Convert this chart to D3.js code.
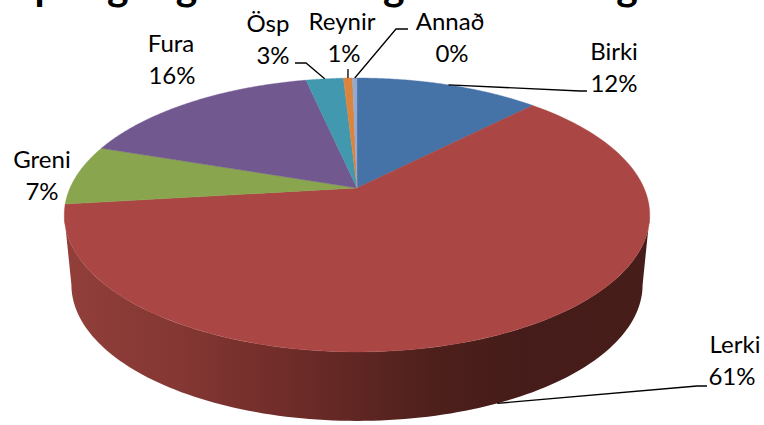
<!DOCTYPE html>
<html><head><meta charset="utf-8">
<script src="https://cdn.jsdelivr.net/npm/d3@7/dist/d3.min.js"></script>
<style>html,body{margin:0;padding:0;background:#fff;overflow:hidden}svg{display:block}text{font-family:Lato,"Open Sans",sans-serif;fill:#000}</style>
</head><body><svg id="c" width="764" height="425"></svg>
<script>
const titleText = "Skipting tegunda eftir gróðursetningu";
const categories = ["Birki","Lerki","Greni","Fura","Ösp","Reynir","Annað"];
const values = [12.3,60.8,7.1,16.4,2.5,0.6,0.3];
const colors = ["#4572A7","#AA4643","#89A54E","#71588F","#4198AF","#DB843D","#93A9CF"];
// label centre x, first line baseline y (layout only)
const labelX = [614,735,42,171,268,342,450];
const labelY = [60,353,168,52,32,30,30];
const labelX2 = [614,732,42,172,273,344,452];
// leader elbow points: [label end, elbow] or null
const leaderEnd = [[587,91],[707,386],null,null,[295,63],[348,69],[408,29]];
const leaderElbow = [[580,91],[697,386],null,null,[306,63],null,[396,29]];

const svg = d3.select("#c");
// perspective disc: unit circle -> screen
const cx = 357, k = 0.197;
const project = (a, A, y0, b) => {
  const u = Math.sin(a), v = Math.cos(a), d = 1 + k*v;
  return [cx + A*u/d, (y0 - b*v)/d];
};
const topRim = a => project(a, 287, 188, 94.6);
const botRim = a => project(a, 280, 258, 80);

const pie = d3.pie().sort(null).value(d=>d)(values);
const line = d3.line().curve(d3.curveLinear);
const sweep = (f, a0, a1) => d3.range(0, 121).map(i => f(a0 + (a1-a0)*i/120));

const x = d3.scaleLinear().domain([64,650]).range([0,1]);
const defs = svg.append("defs");
const grad = defs.append("linearGradient").attr("id","side").attr("gradientUnits","userSpaceOnUse")
  .attr("x1",x.domain()[0]).attr("x2",x.domain()[1]).attr("y1",0).attr("y2",0);
[[64,"#923F3A"],[180,"#843733"],[300,"#6D2B28"],[430,"#4E201C"],[520,"#451C19"],[650,"#471D1A"]]
  .forEach(([p,c]) => grad.append("stop").attr("offset",x(p)).attr("stop-color",c));

// side wall
const hw = Math.PI/2 + Math.asin(k);
const tw = Math.PI*2;
const leftA = tw - hw, rightA = hw;
const sidePts = sweep(topRim, rightA, leftA).concat(sweep(botRim, leftA, rightA));
svg.append("path").attr("d", line(sidePts)+"Z").attr("fill","url(#side)");

// top face
svg.append("g").selectAll("path").data(pie).join("path")
  .attr("d", d => line([[cx,188]].concat(sweep(topRim, d.startAngle, d.endAngle)))+"Z")
  .attr("fill",(d,i)=>colors[i]).attr("stroke",(d,i)=>colors[i]).attr("stroke-width",0.4);

// leaders
const leaders = svg.append("g").attr("fill","none").attr("stroke","#000").attr("stroke-width",1.3);
pie.forEach((d,i)=>{
  if(!leaderEnd[i]) return;
  const mid = (d.startAngle+d.endAngle)/2;
  const a = i===1 ? botRim(mid+0.035) : topRim(mid);
  const pts = [a];
  if(leaderElbow[i]) pts.push(leaderElbow[i]);
  pts.push(leaderEnd[i]);
  leaders.append("path").attr("d",line(pts));
});

// labels
const lab = svg.append("g").attr("font-size",24).attr("text-anchor","middle");
categories.forEach((c,i)=>{
  lab.append("text").attr("x",labelX[i]).attr("y",labelY[i]).text(c);
  lab.append("text").attr("x",labelX2[i]).attr("y",labelY[i]+32).text(d3.format(".0f")(values[i])+"%");
});
// title (clipped by the top edge)
svg.append("text").attr("x",-20).attr("y",0).attr("font-size",41).attr("font-weight",700).text(titleText);
</script></body></html>
